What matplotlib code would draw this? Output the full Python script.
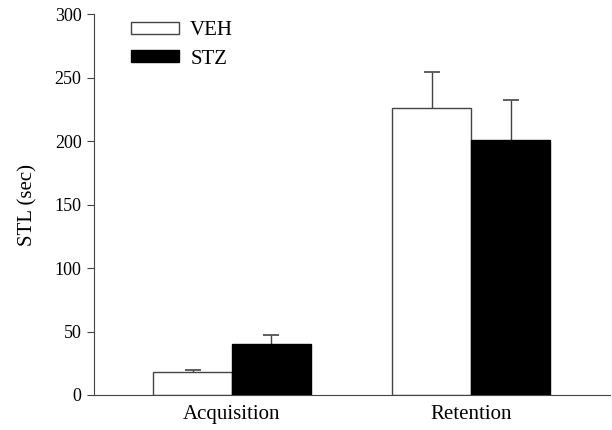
import numpy as np
import matplotlib.pyplot as plt

# data
phases = ["Acquisition", "Retention"]
veh_mean = [18, 226]
veh_err = [2, 28]
stz_mean = [40, 201]
stz_err = [7, 31]

plt.rcParams["font.family"] = ["Liberation Serif", "DejaVu Serif"]
plt.rcParams["font.size"] = 15

fig = plt.figure(figsize=(6.12, 4.3), dpi=100)
ax = fig.add_axes([0.1536, 0.0814, 0.8431, 0.886])

x = np.arange(len(phases))
width = 0.33
edge = "#444444"


def draw_group(pos, mean, err, face, label):
    ax.bar(pos, mean, width, color=face, edgecolor=edge if face == "white" else "black",
           linewidth=1, label=label, zorder=2)
    top = np.array(mean) + np.array(err)
    # only the upper half of the error bar, with a cap on top
    ax.vlines(pos, mean, top, color=edge, linewidth=1, zorder=1)
    ax.plot(pos, top, linestyle="none", marker="_", markersize=12, markeredgewidth=1.2,
            color=edge, zorder=1)


draw_group(x - width / 2, veh_mean, veh_err, "white", "VEH")
draw_group(x + width / 2, stz_mean, stz_err, "black", "STZ")

ax.set_xlim(-0.577, 1.58)
ax.set_ylim(0, 300)
ax.set_yticks(np.arange(0, 301, 50))
ax.set_xticks(x)
ax.set_xticklabels(phases)
ax.tick_params(axis="x", length=0, pad=7)
ax.tick_params(axis="y", direction="out", length=5, color=edge, labelsize=13, pad=4)
ax.set_ylabel("STL (sec)", labelpad=12)

for side in ["top", "right"]:
    ax.spines[side].set_visible(False)
for side in ["left", "bottom"]:
    ax.spines[side].set_color(edge)

ax.legend(loc="upper left", bbox_to_anchor=(0.035, 1.03), frameon=False,
          handlelength=2.3, handleheight=0.5, labelspacing=0.45, handletextpad=0.55)

fig.savefig("out.png", dpi=100)
